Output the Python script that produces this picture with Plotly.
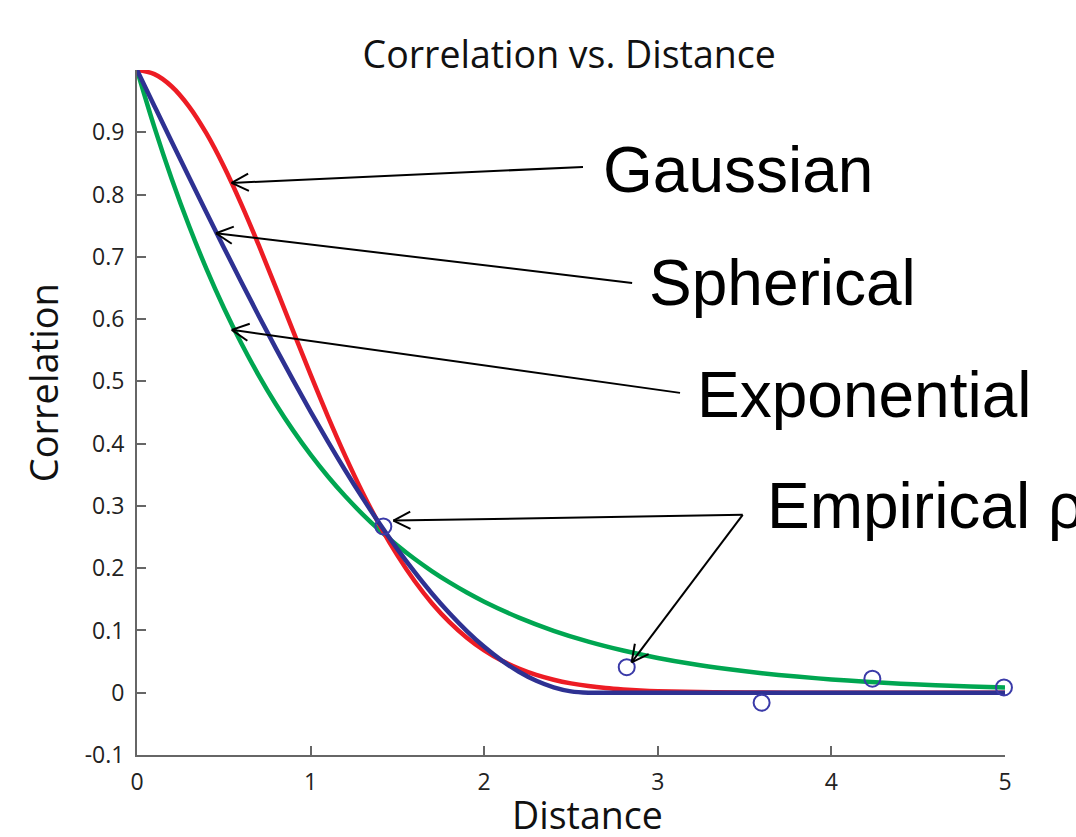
import math
import plotly.graph_objects as go

# ---- data ----
dist_fine = [0.0, 0.1, 0.2, 0.3, 0.4, 0.5, 0.6, 0.7, 0.8, 0.9, 1.0, 1.1, 1.2, 1.3, 1.4,
             1.5, 1.6, 1.7, 1.8, 1.9, 2.0, 2.1, 2.2, 2.3, 2.4, 2.5, 2.6, 2.7, 2.8, 2.9,
             3.0, 3.5, 4.0, 4.5, 5.0]
gaussian = [1.0, 0.9933, 0.9735, 0.9413, 0.8981, 0.8454, 0.7851, 0.7195, 0.6505, 0.5803,
            0.5107, 0.4435, 0.3800, 0.3213, 0.2680, 0.2205, 0.1790, 0.1434, 0.1134, 0.0884,
            0.0680, 0.0516, 0.0387, 0.0286, 0.0209, 0.0150, 0.0107, 0.0075, 0.0052, 0.0035,
            0.0024, 0.0003, 0.0, 0.0, 0.0]
spherical = [1.0, 0.9423, 0.8848, 0.8277, 0.7710, 0.7151, 0.6600, 0.6059, 0.5530, 0.5015,
             0.4515, 0.4033, 0.3569, 0.3125, 0.2704, 0.2306, 0.1935, 0.1590, 0.1275, 0.0990,
             0.0737, 0.0519, 0.0337, 0.0192, 0.0087, 0.0022, 0.0, 0.0, 0.0, 0.0,
             0.0, 0.0, 0.0, 0.0, 0.0]
dist_exp = [0.0, 0.1, 0.2, 0.3, 0.4, 0.5, 0.6, 0.7, 0.8, 0.9, 1.0, 1.1, 1.2, 1.3, 1.4,
            1.5, 1.6, 1.7, 1.8, 1.9, 2.0, 2.2, 2.4, 2.6, 2.8, 3.0, 3.2, 3.4, 3.6, 3.8,
            4.0, 4.2, 4.4, 4.6, 4.8, 5.0]
exponential = [1.0, 0.9083, 0.8250, 0.7494, 0.6807, 0.6183, 0.5616, 0.5101, 0.4633, 0.4209,
               0.3823, 0.3472, 0.3154, 0.2865, 0.2602, 0.2364, 0.2147, 0.1950, 0.1771, 0.1609,
               0.1462, 0.1206, 0.0995, 0.0821, 0.0678, 0.0559, 0.0461, 0.0381, 0.0314, 0.0259,
               0.0214, 0.0176, 0.0145, 0.0120, 0.0099, 0.0082]
emp_dist = [1.419, 2.821, 3.598, 4.236, 4.994]
emp_corr = [0.267, 0.041, -0.016, 0.0225, 0.0085]

x_ticks = [0, 1, 2, 3, 4, 5]
y_ticks = [-0.1, 0.0, 0.1, 0.2, 0.3, 0.4, 0.5, 0.6, 0.7, 0.8, 0.9]
y_tick_text = ["-0.1", "0", "0.1", "0.2", "0.3", "0.4", "0.5", "0.6", "0.7", "0.8", "0.9"]

labels = ["Gaussian", "Spherical", "Exponential", "Empirical ρ"]
label_pos = [(2.673, 0.8395), (2.938, 0.658), (3.214, 0.478), (3.615, 0.300)]
# arrows: (tip_x, tip_y, tail_x, tail_y)
arrows = [(0.545, 0.8186, 2.569, 0.8443),
          (0.455, 0.7379, 2.852, 0.6581),
          (0.546, 0.5827, 3.128, 0.4815),
          (1.477, 0.2765, 3.489, 0.2857),
          (2.849, 0.0486, 3.489, 0.2857)]

RED = "#ed1c24"
BLUE = "#2e3192"
GREEN = "#00a651"
AXFONT = "Open Sans"

W, H = 1076, 837
ML, MR, MT, MB = 137, 71, 70, 82
XR = [0, 5]
YR = [-0.1, 1.0]
sx = (W - ML - MR) / (XR[1] - XR[0])   # px per x unit
sy = (H - MT - MB) / (YR[1] - YR[0])   # px per y unit

fig = go.Figure()
fig.add_trace(go.Scatter(x=dist_exp, y=exponential, mode="lines", line=dict(color=GREEN, width=4.5, shape="spline"), cliponaxis=False))
fig.add_trace(go.Scatter(x=dist_fine, y=gaussian, mode="lines", line=dict(color=RED, width=4.5, shape="spline"), cliponaxis=False))
fig.add_trace(go.Scatter(x=dist_fine, y=spherical, mode="lines", line=dict(color=BLUE, width=4.5, shape="spline"), cliponaxis=False))
fig.add_trace(go.Scatter(x=emp_dist, y=emp_corr, mode="markers",
                         marker=dict(symbol="circle-open", size=16, color="#3a3aa8", line=dict(width=2, color="#3a3aa8")),
                         cliponaxis=False))

shapes = []
ARM = 19.0
ANG = math.radians(27)
for (tx, ty, ax, ay) in arrows:
    shapes.append(dict(type="line", xref="x", yref="y", x0=ax, y0=ay, x1=tx, y1=ty,
                       line=dict(color="black", width=2)))
    dx = (ax - tx) * sx
    dy = (ay - ty) * sy
    L = math.hypot(dx, dy)
    ux, uy = dx / L, dy / L
    for s in (1, -1):
        c, sn = math.cos(s * ANG), math.sin(s * ANG)
        rx = ux * c - uy * sn
        ry = ux * sn + uy * c
        shapes.append(dict(type="line", xref="x", yref="y", x0=tx, y0=ty,
                           x1=tx + rx * ARM / sx, y1=ty + ry * ARM / sy,
                           line=dict(color="black", width=2)))

annotations = []
for lab, (lx, ly) in zip(labels, label_pos):
    annotations.append(dict(x=lx, y=ly, xref="x", yref="y", text=lab, showarrow=False,
                            xanchor="left", yanchor="middle",
                            font=dict(family="Liberation Sans, Arial", size=64, color="black")))
annotations.append(dict(x=-0.108, y=0.543, xref="paper", yref="paper", text="Correlation", textangle=-90,
                        showarrow=False, xanchor="center", yanchor="middle",
                        font=dict(family=AXFONT, size=38, color="#111")))
annotations.append(dict(x=0.519, y=-0.087, xref="paper", yref="paper", text="Distance",
                        showarrow=False, xanchor="center", yanchor="middle",
                        font=dict(family=AXFONT, size=37.5, color="#111")))

fig.update_layout(
    width=W, height=H,
    margin=dict(l=ML, r=MR, t=MT, b=MB),
    paper_bgcolor="white", plot_bgcolor="white",
    showlegend=False,
    title=dict(text="Correlation vs. Distance", x=0.529, xanchor="center", y=0.934, yanchor="middle",
               font=dict(family=AXFONT, size=37.5, color="#111")),
    annotations=annotations,
    shapes=shapes,
    xaxis=dict(range=XR, tickvals=x_ticks, ticktext=[str(v) for v in x_ticks],
               showgrid=False, zeroline=False, showline=True, linecolor="#666", linewidth=2,
               ticks="inside", ticklen=9, tickwidth=1.5, tickcolor="#666",
               ticklabelstandoff=5,
               tickfont=dict(family=AXFONT, size=23, color="#222")),
    yaxis=dict(range=YR, tickvals=y_ticks, ticktext=y_tick_text,
               showgrid=False, zeroline=False, showline=True, linecolor="#666", linewidth=2,
               ticks="inside", ticklen=9, tickwidth=1.5, tickcolor="#666",
               ticklabelstandoff=6,
               tickfont=dict(family=AXFONT, size=23, color="#222")),
)

fig.write_html("out.html", config={"displayModeBar": False},
               post_script="document.body.style.margin='0';document.body.style.overflow='hidden';")
